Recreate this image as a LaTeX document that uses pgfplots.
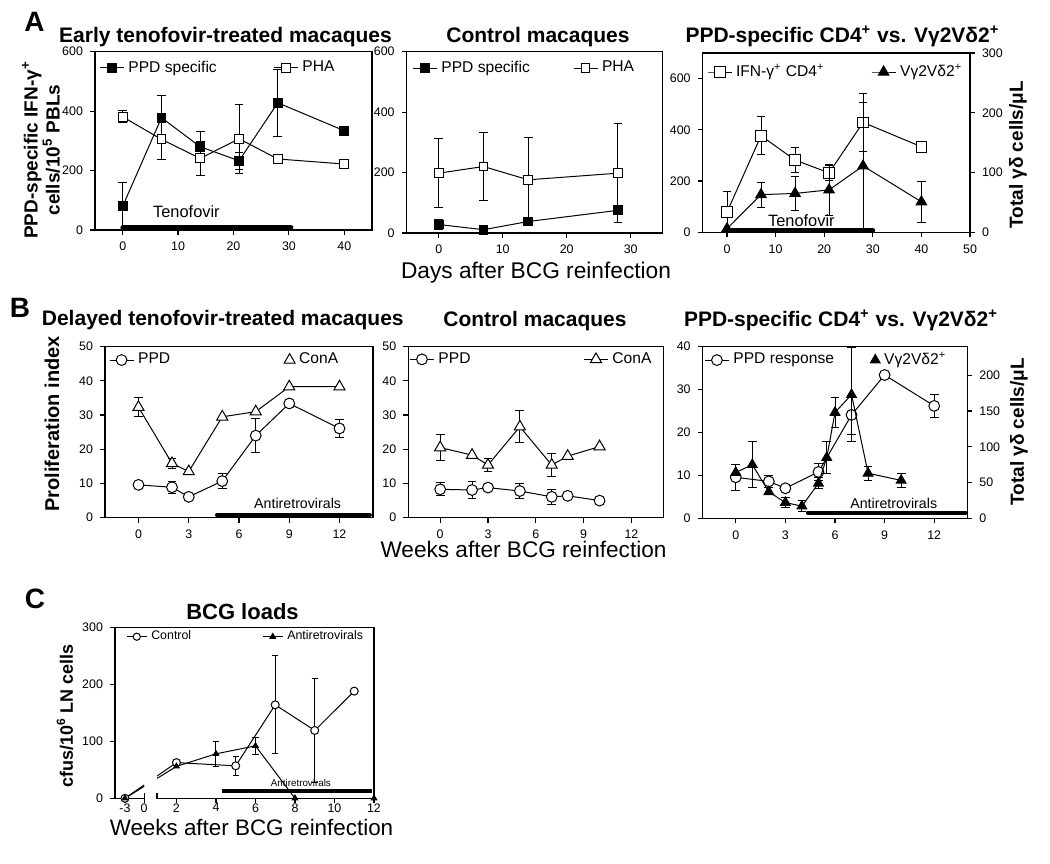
\documentclass[border=0pt]{standalone}
\usepackage{fontspec}
\setmainfont{Liberation Sans}
\usepackage{pgfplots}
\pgfplotsset{compat=1.18}
\pgfplotsset{
  base/.style={
    scale only axis, anchor=south west,
    axis line style={line width=0.6pt},
    tick style={line width=0.6pt, black},
    tick align=outside, major tick length=2.5pt,
    xtick pos=left, ytick pos=left,
    tick label style={font=\fontsize{6.2}{7}\selectfont},
    /pgf/number format/assume math mode=true,
    legend cell align=left,
    legend image code/.code={\draw[mark repeat=2,mark phase=2,##1] plot coordinates {(0pt,0pt) (6pt,0pt) (12pt,0pt)};},
    legend style={draw=none, fill=none, inner sep=0pt, legend columns=2, column sep=0pt, anchor=west,
      nodes={inner xsep=2pt, inner ysep=1pt}, font=\fontsize{7.8}{9}\selectfont},
  },
  errb/.style={draw=none, mark=none, forget plot,
    error bars/.cd, y dir=both, y explicit, error mark=-,
    error bar style={line width=0.5pt, draw=black, solid},
    error mark options={rotate=90, draw=black, line width=0.5pt, mark size=2.2pt, solid}},
  errbc/.style={draw=none, mark=none, forget plot,
    error bars/.cd, y dir=both, y explicit, error mark=-,
    error bar style={line width=0.5pt, draw=black, solid},
    error mark options={rotate=90, draw=black, line width=0.5pt, mark size=1.6pt, solid}},
  ser/.style={black, line width=0.5pt, forget plot, mark options={solid, line width=0.5pt}},
}
\newcommand{\ttl}{\bfseries\fontsize{10.5}{12}\selectfont}
\newcommand{\ylab}{\bfseries\fontsize{9.5}{11}\selectfont}
\begin{document}
\begin{tikzpicture}
\useasboundingbox (0,0) rectangle (525pt,431.5pt);

% ---------------- A left
\begin{axis}[base, at={(47.5pt,316.5pt)}, width=138.5pt, height=89.15pt,
  xmin=-5, xmax=45, ymin=0, ymax=600, xtick={0,10,20,30,40}, ytick={0,200,400,600},
  legend style={at={(axis description cs:0.0144,0.909)}}]
\addlegendimage{black, line width=0.5pt, mark=square*, mark size=2.2pt, mark options={fill=black, solid}}
\addlegendentry{\makebox[70.5pt][l]{PPD specific}}
\addlegendimage{black, line width=0.5pt, mark=square*, mark size=2.2pt, mark options={fill=white, solid}}
\addlegendentry{PHA}
\addplot[forget plot, line width=2.3pt, line cap=round] coordinates {(0,8) (30.4,8)};
\addplot[errb] coordinates {(0,80) +- (0,80) (7,378) +- (0,75) (14,280) +- (0,53) (21,233) +- (0,28) (28,428) +- (0,112)};
\addplot[errb] coordinates {(0,381) +- (0,20) (7,305) +- (0,67) (14,241) +- (0,56) (21,307) +- (0,117)};
\addplot[ser, mark=square*, mark size=2.2pt, mark options={fill=white}] coordinates {(0,381) (7,305) (14,241) (21,307) (28,239) (40,222)};
\addplot[ser, mark=square*, mark size=2.2pt, mark options={fill=black}] coordinates {(0,80) (7,378) (14,280) (21,233) (28,428) (40,334)};
\node[font=\fontsize{8.2}{9}\selectfont, anchor=base] at (axis cs:11.5,43) {Tenofovir};
\end{axis}

% ---------------- A middle
\begin{axis}[base, at={(203.35pt,315pt)}, width=128pt, height=90.65pt,
  xmin=-5, xmax=35, ymin=0, ymax=600, xtick={0,10,20,30}, ytick={0,200,400,600},
  legend style={at={(axis description cs:0.0207,0.910)}}]
\addlegendimage{black, line width=0.5pt, mark=square*, mark size=2.2pt, mark options={fill=black, solid}}
\addlegendentry{\makebox[63.8pt][l]{PPD specific}}
\addlegendimage{black, line width=0.5pt, mark=square*, mark size=2.2pt, mark options={fill=white, solid}}
\addlegendentry{PHA}
\addplot[errb] coordinates {(0,28) +- (0,18)};
\addplot[errb] coordinates {(0,198) +- (0,115) (7,220) +- (0,113) (14,176) +- (0,141) (28,198) +- (0,164)};
\addplot[ser, mark=square*, mark size=2.2pt, mark options={fill=white}] coordinates {(0,198) (7,220) (14,176) (28,198)};
\addplot[ser, mark=square*, mark size=2.2pt, mark options={fill=black}] coordinates {(0,28) (7,11) (14,38) (28,75)};
\end{axis}

% ---------------- A right
\begin{axis}[base, at={(351.35pt,315.35pt)}, width=133.65pt, height=89.65pt,
  xmin=-5, xmax=50, ymin=0, ymax=700, xtick={0,10,20,30,40,50}, ytick={0,200,400,600},
  legend style={at={(axis description cs:0.015,0.894)}}]
\addlegendimage{black, line width=0.5pt, mark=square*, mark size=2.7pt, mark options={fill=white, solid}}
\addlegendentry{\makebox[65.5pt][l]{IFN-γ\textsuperscript{+} CD4\textsuperscript{+}}}
\addlegendimage{black, line width=0.5pt, mark=triangle*, mark size=3pt, mark options={fill=black, solid}}
\addlegendentry{Vγ2Vδ2\textsuperscript{+}}
\addplot[forget plot, line width=2.3pt, line cap=round] coordinates {(0,8) (30,8)};
\addplot[errb] coordinates {(0,79) +- (0,81) (7,377) +- (0,75) (14,282) +- (0,50) (21,232) +- (0,30) (28,429) +- (0,112)};
\addplot[ser, mark=square*, mark size=2.7pt, mark options={fill=white}] coordinates {(0,79) (7,377) (14,282) (21,232) (28,429) (40,334)};
\node[font=\fontsize{8.2}{9}\selectfont, anchor=base] at (axis cs:15.3,22) {Tenofovir};
\end{axis}
\begin{axis}[base, at={(351.35pt,315.35pt)}, width=133.65pt, height=89.65pt,
  xmin=-5, xmax=50, ymin=0, ymax=300, axis y line*=right, axis x line=none, ytick pos=right,
  ytick={0,100,200,300}]
\addplot[errb] coordinates {(7,63) +- (0,21) (14,65) +- (0,29) (21,71) +- (0,43) (28,111) +- (0,107) (40,51) +- (0,34)};
\addplot[ser, mark=triangle*, mark size=3pt, mark options={fill=black}] coordinates {(0,6) (7,63) (14,65) (21,71) (28,111) (40,51)};
\end{axis}

% ---------------- B left
\begin{axis}[base, at={(52.5pt,172.65pt)}, width=134pt, height=85.5pt,
  xmin=-2, xmax=14, ymin=0, ymax=50, xtick={0,3,6,9,12}, ytick={0,10,20,30,40,50},
  legend style={at={(axis description cs:0.0138,0.922)}}]
\addlegendimage{black, line width=0.5pt, mark=*, mark size=2.7pt, mark options={fill=white, solid}}
\addlegendentry{\makebox[71pt][l]{PPD}}
\addlegendimage{black, only marks, line width=0.5pt, mark=triangle*, mark size=3.2pt, mark options={fill=white, solid}}
\addlegendentry{ConA}
\addplot[forget plot, line width=2.3pt, line cap=round] coordinates {(4.7,0.8) (13.8,0.8)};
\addplot[errb] coordinates {(2,8.9) +- (0,1.7) (5,10.7) +- (0,2.3) (7,24) +- (0,5) (12,26.1) +- (0,2.7)};
\addplot[errb] coordinates {(0,32.3) +- (0,2.8) (2,15.9) +- (0,1.5)};
\addplot[ser, mark=triangle*, mark size=3.2pt, mark options={fill=white}] coordinates {(0,32.3) (2,15.9) (3,13.5) (5,29.5) (7,31) (9,38.3) (12,38.3)};
\addplot[ser, mark=*, mark size=2.7pt, mark options={fill=white}] coordinates {(0,9.6) (2,8.9) (3,6.1) (5,10.7) (7,24) (9,33.4) (12,26.1)};
\node[font=\fontsize{7.1}{8}\selectfont, anchor=base] at (axis cs:9.5,2.7) {Antiretrovirals};
\end{axis}

% ---------------- B middle
\begin{axis}[base, at={(204.15pt,172.65pt)}, width=127.5pt, height=85.5pt,
  xmin=-2, xmax=14, ymin=0, ymax=50, xtick={0,3,6,9,12}, ytick={0,10,20,30,40,50},
  legend style={at={(axis description cs:0.003,0.926)}}]
\addlegendimage{black, line width=0.5pt, mark=*, mark size=2.7pt, mark options={fill=white, solid}}
\addlegendentry{\makebox[70.5pt][l]{PPD}}
\addlegendimage{black, line width=0.5pt, mark=triangle*, mark size=3.2pt, mark options={fill=white, solid}}
\addlegendentry{ConA}
\addplot[errb] coordinates {(0,8.3) +- (0,1.9) (2,8.1) +- (0,2.6) (5,7.8) +- (0,2.3) (7,6.1) +- (0,2.1)};
\addplot[errb] coordinates {(0,20.5) +- (0,3.8) (3,15.4) +- (0,1.9) (5,26.6) +- (0,4.7) (7,15.4) +- (0,3.4)};
\addplot[ser, mark=triangle*, mark size=3.2pt, mark options={fill=white}] coordinates {(0,20.5) (2,18.3) (3,15.4) (5,26.6) (7,15.4) (8,18) (10,20.8)};
\addplot[ser, mark=*, mark size=2.7pt, mark options={fill=white}] coordinates {(0,8.3) (2,8.1) (3,8.8) (5,7.8) (7,6.1) (8,6.4) (10,5.0)};
\end{axis}

% ---------------- B right
\begin{axis}[base, at={(351.35pt,172.35pt)}, width=132.3pt, height=85.8pt,
  xmin=-2, xmax=14, ymin=0, ymax=40, xtick={0,3,6,9,12}, ytick={0,10,20,30,40},
  legend style={at={(axis description cs:0.005,0.922)}}]
\addlegendimage{black, line width=0.5pt, mark=*, mark size=2.7pt, mark options={fill=white, solid}}
\addlegendentry{\makebox[66.5pt][l]{PPD response}}
\addlegendimage{black, only marks, line width=0.5pt, mark=triangle*, mark size=2.8pt, mark options={fill=black, solid}}
\addlegendentry{Vγ2Vδ2\textsuperscript{+}}
\addplot[forget plot, line width=2pt, line cap=round] coordinates {(4.36,1.3) (13.9,1.3)};
\addplot[errb] coordinates {(0,9.55) +- (0,3) (2,8.6) +- (0,1.4) (5,10.8) +- (0,2) (7,24.1) +- (0,4.5) (12,26.2) +- (0,2.6)};
\addplot[ser, mark=*, mark size=2.7pt, mark options={fill=white}] coordinates {(0,9.55) (2,8.6) (3,7.0) (5,10.8) (7,24.1) (9,33.4) (12,26.2)};
\node[font=\fontsize{7.1}{8}\selectfont, anchor=base] at (axis cs:9.55,2.3) {Antiretrovirals};
\end{axis}
\begin{axis}[base, at={(351.35pt,172.35pt)}, width=132.3pt, height=85.8pt,
  xmin=-2, xmax=14, ymin=0, ymax=240, axis y line*=right, axis x line=none, ytick pos=right,
  ytick={0,50,100,150,200}]
\addplot[errb] coordinates {(1,75) +- (0,32) (3,22) +- (0,7) (4,17) +- (0,8) (5,49) +- (0,8) (5.5,85) +- (0,23) (6,148) +- (0,21) (7,173) +- (0,66) (8,63) +- (0,10) (10,53) +- (0,10)};
\addplot[ser, mark=triangle*, mark size=2.8pt, mark options={fill=black}] coordinates {(0,64) (1,75) (2,37) (3,22) (4,17) (5,49) (5.5,85) (6,148) (7,173) (8,63) (10,53)};
\end{axis}

% ---------------- C
\begin{axis}[base, at={(57.5pt,32.35pt)}, width=129.5pt, height=85.5pt,
  xmin=-1.11, xmax=12, ymin=0, ymax=300,
  xtick={-0.607,0.366,2,4,6,8,10,12}, xticklabels={-3,0,2,4,6,8,10,12},
  xticklabel style={yshift=3.5pt},
  ytick={0,100,200,300},
  separate axis lines, x axis line style={draw=none},
  legend image code/.code={\draw[mark repeat=2,mark phase=2,#1] plot coordinates {(0pt,0pt) (5pt,0pt) (10pt,0pt)};},
  legend style={at={(axis description cs:0.042,0.945)}, font=\fontsize{6.2}{7}\selectfont}]
\addlegendimage{black, line width=0.5pt, mark=*, mark size=1.8pt, mark options={fill=white, solid}}
\addlegendentry{\makebox[53.5pt][l]{Control}}
\addlegendimage{black, line width=0.5pt, mark=triangle*, mark size=1.6pt, mark options={fill=black, solid}}
\addlegendentry{Antiretrovirals}
\draw[line width=0.6pt] (rel axis cs:0,1) -- (rel axis cs:1,1);
\draw[line width=0.6pt] (rel axis cs:0,0) -- (axis cs:0.366,0);
\draw[line width=0.6pt] (axis cs:1.02,0) -- (rel axis cs:1,0);
\draw[line width=0.6pt] ([yshift=-2.5pt]axis cs:0.366,0) -- ([yshift=2.5pt]axis cs:0.366,0);
\draw[line width=0.6pt] ([yshift=-2.5pt]axis cs:1.02,0) -- ([yshift=2.5pt]axis cs:1.02,0);
\addplot[forget plot, line width=1.85pt] coordinates {(4.32,13) (11.9,13)};
\addplot[ser, mark=none, unbounded coords=jump] coordinates {(-0.607,0) (0.366,23.4) (0.7,nan) (1.02,39.1) (2,62.6) (5,57) (7,164) (9,119) (11,188)};
\addplot[ser, mark=none, unbounded coords=jump] coordinates {(-0.607,0) (0.366,20.9) (0.7,nan) (1.02,34.9) (2,56) (4,78) (6,92) (8,0)};
\addplot[errbc] coordinates {(2,62.6) +- (0,4) (5,57) +- (0,17) (7,164) +- (0,86) (9,119) +- (0,92)};
\addplot[errbc] coordinates {(4,78) +- (0,22) (6,92) +- (0,15)};
\addplot[ser, only marks, mark=*, mark size=2pt, mark options={fill=white}] coordinates {(-0.607,0) (2,62.6) (5,57) (7,164) (9,119) (11,188)};
\addplot[ser, only marks, mark=triangle*, mark size=1.6pt, mark options={fill=black}] coordinates {(-0.607,0) (2,56) (4,78) (6,92) (8,0) (12,0)};
\node[font=\fontsize{4.9}{6}\selectfont, anchor=base] at (axis cs:8.3,20) {Antiretrovirals};
\end{axis}

% ---------------- texts
\node[font=\bfseries\fontsize{14}{14}\selectfont] at (17.25pt,420.5pt) {A};
\node[font=\bfseries\fontsize{14}{14}\selectfont] at (10pt,277.75pt) {B};
\node[font=\bfseries\fontsize{14}{14}\selectfont] at (17.5pt,132pt) {C};
\node[anchor=base, font=\ttl] at (112.75pt,410.15pt) {Early tenofovir-treated macaques};
\node[anchor=base, font=\ttl] at (269pt,410.15pt) {Control macaques};
\node[anchor=base, font=\ttl] at (421.25pt,410.15pt) {PPD-specific CD4\textsuperscript{+} vs. Vγ2Vδ2\textsuperscript{+}};
\node[anchor=base, font=\fontsize{11.35}{13}\selectfont] at (268pt,292.35pt) {Days after BCG reinfection};
\node[rotate=90, align=center, font=\ylab] at (20.5pt,356.5pt) {PPD-specific IFN-γ\textsuperscript{+}\\cells/10\textsuperscript{5} PBLs};
\node[rotate=90, font=\ylab] at (509pt,354pt) {Total γδ cells/μL};
\node[anchor=base, font=\ttl] at (111.4pt,268.5pt) {Delayed tenofovir-treated macaques};
\node[anchor=base, font=\ttl] at (267.5pt,268.15pt) {Control macaques};
\node[anchor=base, font=\ttl] at (420.5pt,268.25pt) {PPD-specific CD4\textsuperscript{+} vs. Vγ2Vδ2\textsuperscript{+}};
\node[rotate=90, font=\bfseries\fontsize{10}{12}\selectfont] at (26pt,219.5pt) {Proliferation index};
\node[rotate=90, font=\ylab] at (509.5pt,215.5pt) {Total γδ cells/μL};
\node[anchor=base, font=\fontsize{11.3}{13}\selectfont] at (261.75pt,152.5pt) {Weeks after BCG reinfection};
\node[anchor=base, font=\bfseries\fontsize{11}{13}\selectfont] at (121.25pt,121.85pt) {BCG loads};
\node[rotate=90, font=\bfseries\fontsize{9}{11}\selectfont] at (32.5pt,73.5pt) {cfus/10\textsuperscript{6} LN cells};
\node[anchor=base, font=\fontsize{11.2}{13}\selectfont] at (125.75pt,14pt) {Weeks after BCG reinfection};
\end{tikzpicture}
\end{document}
